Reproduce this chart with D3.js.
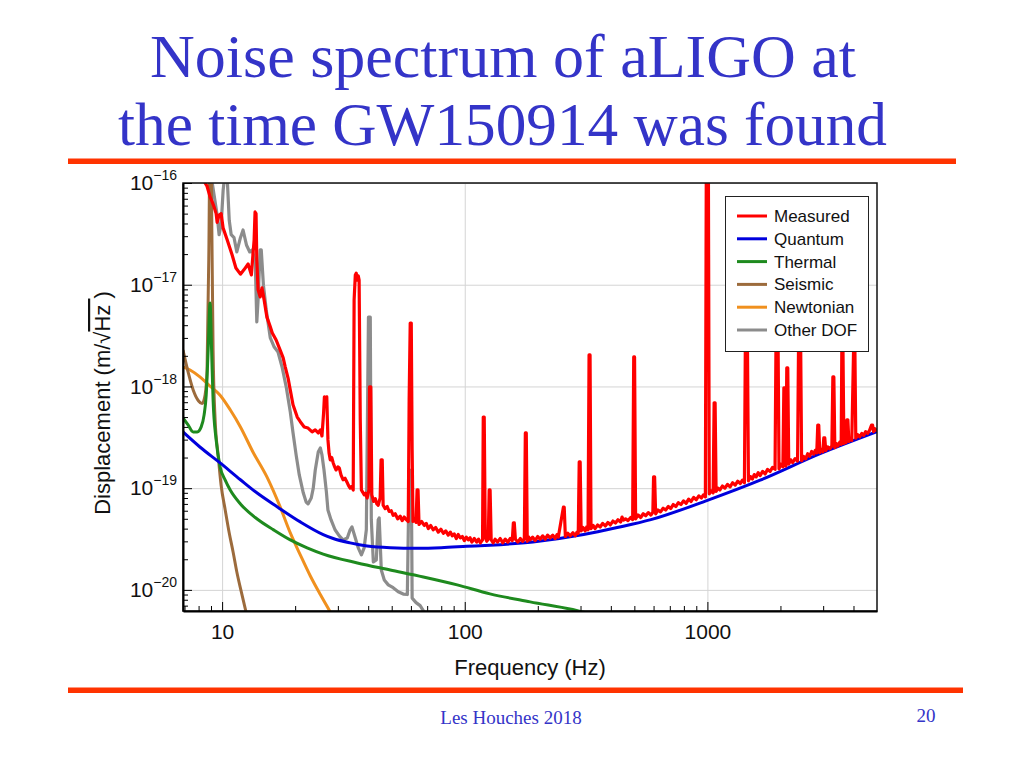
<!DOCTYPE html>
<html><head><meta charset="utf-8">
<script src="https://cdn.jsdelivr.net/npm/d3@7"></script>
<style>
body{margin:0;background:#fff;}
svg{display:block;}
</style></head><body>
<svg id="chart" width="1024" height="768"></svg>
<script>
// ---------------- data ----------------
const titleLines = ["Noise spectrum of aLIGO at", "the time GW150914 was found"];
const footerLeft = "Les Houches 2018";
const footerRight = "20";
const xLabel = "Frequency (Hz)";
const xMajorTicks = [10, 100, 1000];
const yMajorTicks = [1e-20, 1e-19, 1e-18, 1e-17, 1e-16];
const seriesNames = ["Measured", "Quantum", "Thermal", "Seismic", "Newtonian", "Other DOF"];

const measured = [
[8.3,1.3e-16],[8.51,1.0e-16],[8.67,9.3e-17],[8.92,7.3e-17],[9.09,6.6e-17],[9.27,5.8e-17],[9.45,5.0e-17],
[9.54,4.1e-17],[9.72,4.85e-17],[9.91,5.0e-17],[10.1,3.6e-17],[10.5,2.75e-17],[11.0,1.96e-17],[11.4,1.46e-17],
[11.9,1.27e-17],[12.3,1.40e-17],[12.8,1.60e-17],[13.2,1.25e-17],[13.55,2.75e-17],[13.67,5.19e-17],[13.8,5.0e-17],
[13.9,1.75e-17],[14.07,8.9e-18],[14.35,7.6e-18],[14.6,9.3e-18],[14.9,7.1e-18],[15.3,4.8e-18],[15.8,3.85e-18],
[16.1,3.36e-18],[16.7,2.86e-18],[17.35,2.28e-18],[17.85,1.91e-18],[18.2,1.56e-18],[18.7,1.21e-18],[19.1,9.2e-19],
[19.6,6.6e-19],[20.4,5.0e-19],[21.0,4.5e-19],[21.8,4.0e-19],[22.6,3.9e-19],[23.5,3.57e-19],[24.2,3.74e-19],
[24.9,3.49e-19],[25.4,3.74e-19],[25.8,3.26e-19],[26.2,5.5e-19],[26.4,7.9e-19],[26.7,7.4e-19],[27.0,7.9e-19],
[27.3,3.0e-19],[27.6,2.2e-19],[27.9,1.9e-19],[28.3,2.0e-19],[28.7,1.77e-19],[29.1,1.62e-19],[29.5,1.51e-19],
[30.0,1.62e-19],[30.4,1.58e-19],[30.9,1.35e-19],[31.5,1.21e-19],[32.1,1.25e-19],[32.8,1.13e-19],[33.2,1.06e-19],
[33.7,1.0e-19],[34.2,1.04e-19],[34.7,9.6e-20],[35.0,7.1e-18],[35.4,1.25e-17],[35.7,1.30e-17],[36.1,1.11e-17],
[36.4,1.22e-17],[36.7,1.11e-17],[37.1,4.7e-19],[37.5,9.6e-20],[38.0,9.1e-20],[38.5,8.6e-20],[39.0,8.9e-20],
[39.6,8.0e-20],[40.3,9.6e-20],[40.5,9.9e-19],[41.0,9.9e-19],[41.4,8.6e-20],[42.1,7.4e-20],[42.8,7.9e-20],
[43.4,7.0e-20],[44.0,6.8e-20],[44.8,8.0e-20],[45.2,1.9e-19],[45.7,1.9e-19],[46.1,6.8e-20],[47.0,6.3e-20],
[47.9,6.6e-20],[48.8,5.9e-20],[49.8,6.0e-20],[50.7,5.4e-20],[51.7,5.6e-20],[52.9,5.0e-20],[54.2,5.3e-20],
[55.2,4.8e-20],[56.3,5.2e-20],[57.4,4.9e-20],[58.5,4.7e-20],[59.0,7.4e-19],[59.6,4.2e-18],[60.2,4.2e-18],
[60.7,2.4e-19],[61.2,4.7e-20],[62.1,5.0e-20],[63.0,4.6e-20],[63.6,9.6e-20],[64.2,9.6e-20],[64.8,4.4e-20],
[66.4,4.7e-20],[68.1,4.3e-20],[69.4,4.5e-20],[70.8,4.0e-20],[72.4,4.3e-20],[74.1,3.9e-20],[75.9,4.1e-20],
[77.8,3.7e-20],[79.7,3.95e-20],[81.6,3.6e-20],[83.5,3.8e-20],[85.5,3.45e-20],[87.2,3.7e-20],[88.8,3.4e-20],
[90.5,3.55e-20],[92.3,3.2e-20],[94,3.5e-20],[95.9,3.25e-20],[97.7,3.35e-20],[99.6,3.05e-20],[101.5,3.3e-20],
[103.4,3.1e-20],[105.2,3.25e-20],[107,2.95e-20],[109.5,3.2e-20],[112,2.95e-20],[114,3.15e-20],[116,2.9e-20],
[118.4,3.1e-20],[119.2,5.0e-19],[120.3,5.0e-19],[121.5,3.3e-20],[123.2,3.0e-20],[125,3.15e-20],[126.1,9.6e-20],
[127.2,9.6e-20],[128.5,3.1e-20],[131,2.9e-20],[133.4,3.15e-20],[136.5,2.95e-20],[140,3.2e-20],[143.5,2.9e-20],
[146.8,3.15e-20],[150.5,2.95e-20],[154,3.2e-20],[157,3.05e-20],[158.6,4.56e-20],[160,4.56e-20],[161.7,3.15e-20],
[165.5,2.95e-20],[169.5,3.2e-20],[173,3.0e-20],[176,3.15e-20],[177.7,3.49e-19],[179.3,3.49e-19],[181,3.0e-20],
[183.5,3.3e-20],[186,3.1e-20],[190.5,3.3e-20],[195,3.05e-20],[200,3.35e-20],[204.5,3.15e-20],[209.5,3.4e-20],
[214.5,3.15e-20],[219.5,3.45e-20],[225,3.25e-20],[230.5,3.45e-20],[236,3.2e-20],[240,3.5e-20],[243,3.3e-20],
[255,6.5e-20],[257,6.5e-20],[259.8,3.35e-20],[266,3.6e-20],[272,3.4e-20],[279,3.65e-20],[285.5,3.4e-20],
[290,3.7e-20],[293.6,3.6e-20],[296.3,1.81e-19],[299,1.81e-19],[301.8,3.8e-20],[307.5,4.1e-20],[313.4,3.8e-20],
[318,4.15e-20],[322.2,3.9e-20],[325.3,2.04e-18],[328.4,2.04e-18],[331.4,4.0e-20],[338,4.3e-20],[344.4,4.0e-20],
[353,4.35e-20],[361.5,4.15e-20],[370,4.5e-20],[379.5,4.25e-20],[389,4.6e-20],[398,4.35e-20],[408,4.75e-20],
[418,4.55e-20],[428,4.9e-20],[439,4.65e-20],[445,5.2e-20],[451,4.85e-20],[460,5.0e-20],[471,4.8e-20],
[483,5.15e-20],[492,4.9e-20],[497,1.95e-18],[501,1.95e-18],[506,5.0e-20],[518,5.45e-20],[531,5.15e-20],
[544,5.6e-20],[557,5.35e-20],[571,5.75e-20],[585,5.45e-20],[596,5.8e-20],[600,1.29e-19],[606,1.29e-19],
[612,5.6e-20],[626,6.1e-20],[641,5.85e-20],[657,6.35e-20],[673,6.1e-20],[690,6.6e-20],[706,6.3e-20],[723,6.9e-20],
[741,6.6e-20],[759,7.2e-20],[778,6.9e-20],[797,7.5e-20],[817,7.1e-20],[837,7.8e-20],[857,7.4e-20],[878,8.1e-20],
[900,7.7e-20],[922,8.4e-20],[945,8.0e-20],[963,8.6e-20],[981,8.2e-20],[990,2e-16],[1009,2e-16],[1018,8.8e-20],
[1037,9.4e-20],[1056,9.0e-20],[1066,6.9e-19],[1076,6.9e-19],[1086,9.3e-20],[1106,1.0e-19],[1126,9.6e-20],
[1153,1.05e-19],[1181,1.0e-19],[1210,1.09e-19],[1240,1.03e-19],[1270,1.13e-19],[1302,1.07e-19],[1334,1.17e-19],
[1367,1.11e-19],[1394,1.2e-19],[1421,1.13e-19],[1434,3.0e-18],[1462,3.0e-18],[1476,1.18e-19],[1504,1.3e-19],
[1532,1.23e-19],[1560,1.36e-19],[1589,1.29e-19],[1619,1.42e-19],[1649,1.33e-19],[1689,1.46e-19],[1729,1.38e-19],
[1770,1.53e-19],[1813,1.46e-19],[1856,1.6e-19],[1900,1.53e-19],[1918,3.0e-18],[1955,3.0e-18],[1973,1.55e-19],
[2010,1.72e-19],[2047,1.62e-19],[2066,9.7e-19],[2085,9.7e-19],[2105,1.65e-19],[2124,1.52e-18],[2144,1.52e-18],
[2164,1.72e-19],[2204,1.9e-19],[2244,1.78e-19],[2298,1.95e-19],[2353,1.85e-19],[2376,3.0e-18],[2422,3.0e-18],
[2445,1.86e-19],[2493,2.05e-19],[2541,1.94e-19],[2590,2.18e-19],[2640,2.06e-19],[2690,2.3e-19],[2742,2.16e-19],
[2783,2.35e-19],[2823,2.22e-19],[2850,4.18e-19],[2877,4.18e-19],[2904,2.24e-19],[2947,2.42e-19],[2990,2.28e-19],
[3018,3.12e-19],[3046,3.12e-19],[3075,2.34e-19],[3135,2.55e-19],[3196,2.44e-19],[3258,2.6e-19],[3289,1.24e-18],
[3320,1.24e-18],[3351,2.5e-19],[3400,2.75e-19],[3449,2.6e-19],[3516,2.85e-19],[3560,2.7e-19],[3583,3.0e-18],
[3617,3.0e-18],[3651,2.75e-19],[3690,2.95e-19],[3722,2.8e-19],[3757,4.69e-19],[3792,4.69e-19],[3828,2.88e-19],
[3880,3.1e-19],[3937,2.95e-19],[4012,3.0e-18],[4050,3.0e-18],[4088,3.1e-19],[4165,3.35e-19],[4244,3.2e-19],
[4325,3.45e-19],[4406,3.3e-19],[4490,3.6e-19],[4574,3.45e-19],[4660,3.7e-19],[4748,4.18e-19],[4793,4.18e-19],
[4838,3.6e-19],[4900,3.85e-19],[4960,3.7e-19],[5000,3.8e-19]
];

const quantum = [
[6.9,3.57e-19],[8.1,2.54e-19],[9.81,1.77e-19],[11.9,1.21e-19],[13.9,9.0e-20],[16.9,6.54e-20],[21.0,4.66e-20],
[26.1,3.5e-20],[28.7,3.2e-20],[33.7,2.9e-20],[39.6,2.7e-20],[49.3,2.6e-20],[63.6,2.57e-20],[80,2.6e-20],
[102,2.68e-20],[127,2.75e-20],[191,2.96e-20],[309,3.5e-20],[425,4.1e-20],[585,4.9e-20],[1000,7.6e-20],
[1650,1.2e-19],[2930,2.2e-19],[5000,3.6e-19]
];

const thermal = [
[6.9,4.9e-19],[7.24,4.18e-19],[7.6,3.57e-19],[7.9,3.57e-19],[8.2,4.0e-19],[8.43,5.25e-19],[8.6,8.25e-19],
[8.76,2.28e-18],[8.92,6.62e-18],[9.05,2.28e-18],[9.18,7.36e-19],[9.45,2.98e-19],[9.81,1.62e-19],[10.3,1.2e-19],
[10.8,9.6e-20],[11.9,7.0e-20],[13.9,5.0e-20],[16.3,3.89e-20],[19.1,3.10e-20],[22.4,2.59e-20],[26.1,2.25e-20],
[36.1,1.84e-20],[49.3,1.57e-20],[67.5,1.34e-20],[93.1,1.12e-20],[127,9.14e-21],[186,7.62e-21],[294,6.22e-21],
[330,5.8e-21]
];

const seismic = [
[6.9,2.28e-18],[7.24,1.39e-18],[7.6,9.24e-19],[8.0,7.2e-19],[8.27,6.78e-19],[8.51,8.25e-19],[8.67,1.45e-18],
[8.82,2.2e-17],[8.9,1.7e-16],[9.0,1.7e-16],[9.09,2.2e-17],[9.18,2.28e-18],[9.36,4.69e-19],[9.63,2.12e-19],
[9.9,1.08e-19],[10.3,6.11e-20],[10.7,3.63e-20],[11.1,2.36e-20],[11.5,1.50e-20],[12.0,9.56e-21],[12.6,5.81e-21]
];

const newtonian = [
[6.9,1.56e-18],[7.38,1.45e-18],[8.1,1.24e-18],[8.9,1.01e-18],[9.81,8.2e-19],[10.8,5.9e-19],[11.9,4.0e-19],
[13.4,2.27e-19],[15.3,1.29e-19],[17.35,6.54e-20],[19.1,3.63e-20],[21.0,2.21e-20],[23.1,1.37e-20],[25.4,9.0e-21],
[27.9,6.08e-21]
];

const otherDOF = [
[8.55,2e-16],[9.0,1.2e-16],[9.27,7.6e-17],[9.54,4.85e-17],[9.72,3.1e-17],[9.91,3.9e-17],[10.1,8.5e-17],
[10.3,1.3e-16],[10.5,1.1e-16],[10.7,4.3e-17],[10.9,3.1e-17],[11.2,2.9e-17],[11.5,2.1e-17],[11.9,2.9e-17],
[12.2,3.45e-17],[12.6,2.46e-17],[13.0,2.1e-17],[13.3,2.2e-17],[13.7,1.67e-17],[13.9,4.3e-18],[14.07,7.1e-18],
[14.35,2.2e-17],[14.5,2.2e-17],[14.8,9.9e-18],[15.2,5.65e-18],[15.8,3.0e-18],[16.4,2.44e-18],[17.0,2.18e-18],
[17.7,1.52e-18],[18.4,9.7e-19],[19.1,5.6e-19],[19.6,3.5e-19],[20.2,2.1e-19],[20.8,1.35e-19],[21.6,9.0e-20],
[22.2,7.3e-20],[22.6,7.0e-20],[23.3,8.0e-20],[23.75,1.0e-19],[24.2,1.5e-19],[24.9,2.27e-19],[25.4,2.49e-19],
[25.8,2.12e-19],[26.3,1.51e-19],[26.9,9.2e-20],[27.3,6.1e-20],[28.1,4.9e-20],[29.2,3.9e-20],[30.4,3.4e-20],
[31.5,3.1e-20],[32.8,3.24e-20],[33.7,3.9e-20],[34.3,4.16e-20],[35.4,3.24e-20],[36.4,2.59e-20],[37.5,2.21e-20],
[38.5,2.59e-20],[39.3,3.9e-20],[40.1,4.8e-18],[40.8,4.8e-18],[41.2,4.9e-20],[42.0,1.88e-20],[43.2,1.97e-20],
[44.0,4.9e-20],[44.4,5.1e-20],[45.3,1.57e-20],[46.6,1.25e-20],[48.4,1.12e-20],[50.7,1.05e-20],[53.2,9.6e-21],
[55.8,9.1e-21],[58.0,9.0e-21],[59.0,1.5e-19],[60.2,1.5e-19],[60.7,8.3e-21],[63.0,7.5e-21],[65.5,7.0e-21],
[68.8,5.8e-21]
];

const seriesColors = ["#ff0000", "#0000dd", "#1e8a1e", "#9c6b3c", "#f0901e", "#8c8c8c"];

// ---------------- layout ----------------
const svg = d3.select("#chart");
const M = {left:183, right:877, top:183, bottom:611};
const x = d3.scaleLog().domain([6.9, 5000]).range([M.left, M.right]);
const y = d3.scaleLog().domain([6.2e-21, 1e-16]).range([M.bottom, M.top]);
const sans = "'Liberation Sans', Arial, sans-serif";
const serif = "'Liberation Serif', 'Times New Roman', serif";
const slideBlue = "#3434c8";
const ruleColor = "#ff3300";

svg.append("rect").attr("width",1024).attr("height",768).attr("fill","#fff");

// title
const titleSpec = [{y:77, len:706, cx:503}, {y:145, len:769, cx:502.5}];
titleLines.forEach((t,i)=>{
  svg.append("text").attr("x",titleSpec[i].cx).attr("y",titleSpec[i].y)
    .attr("text-anchor","middle").attr("font-family",serif).attr("font-size",62)
    .attr("fill",slideBlue).attr("textLength",titleSpec[i].len).attr("lengthAdjust","spacingAndGlyphs")
    .text(t);
});
// rules
svg.append("rect").attr("x",68).attr("y",158.5).attr("width",888).attr("height",5.5).attr("fill",ruleColor);
svg.append("rect").attr("x",68).attr("y",687.5).attr("width",895).attr("height",5.5).attr("fill",ruleColor);
// footer
svg.append("text").attr("x",511).attr("y",724).attr("text-anchor","middle").attr("font-family",serif)
  .attr("font-size",19).attr("fill",slideBlue).text(footerLeft);
svg.append("text").attr("x",926).attr("y",722).attr("text-anchor","middle").attr("font-family",serif)
  .attr("font-size",19).attr("fill",slideBlue).text(footerRight);

// minor tick values
const xMinor = [];
[1,10,100,1000].forEach(d=>{ for(let k=2;k<=9;k++){ const v=k*d; if(v>x.domain()[0] && v<x.domain()[1]) xMinor.push(v);} });
const yMinor = [];
[1e-21,1e-20,1e-19,1e-18,1e-17].forEach(d=>{ for(let k=2;k<=9;k++){ const v=k*d; if(v>y.domain()[0] && v<y.domain()[1]) yMinor.push(v);} });

// grid
const grid = svg.append("g");
grid.append("g").attr("transform",`translate(0,${M.bottom})`)
  .call(d3.axisBottom(x).tickValues(xMajorTicks).tickSize(-(M.bottom-M.top)).tickFormat(""))
  .call(g=>g.select(".domain").remove())
  .call(g=>g.selectAll("line").attr("stroke","#d4d4d4").attr("stroke-width",1));
grid.append("g").attr("transform",`translate(${M.left},0)`)
  .call(d3.axisLeft(y).tickValues(yMajorTicks).tickSize(-(M.right-M.left)).tickFormat(""))
  .call(g=>g.select(".domain").remove())
  .call(g=>g.selectAll("line").attr("stroke","#d4d4d4").attr("stroke-width",1));

// data lines
svg.append("defs").append("clipPath").attr("id","plotclip").append("rect")
  .attr("x",M.left).attr("y",M.top).attr("width",M.right-M.left).attr("height",M.bottom-M.top);
const lineRaw = d3.line().x(d=>x(d[0])).y(d=>y(d[1]));
const lineSmooth = d3.line().x(d=>x(d[0])).y(d=>y(d[1])).curve(d3.curveMonotoneX);
const plot = svg.append("g").attr("clip-path","url(#plotclip)");
const drawOrder = [[otherDOF,5,lineRaw,3.2],[newtonian,4,lineSmooth,3],[seismic,3,lineSmooth,3],
                   [thermal,2,lineSmooth,3],[quantum,1,lineSmooth,3],[measured,0,lineRaw,3.2]];
drawOrder.forEach(([data,ci,gen,w])=>{
  plot.append("path").datum(data).attr("d",gen).attr("fill","none")
    .attr("stroke",seriesColors[ci]).attr("stroke-width",w).attr("stroke-linejoin","round");
});

// frame
svg.append("rect").attr("x",M.left).attr("y",M.top).attr("width",M.right-M.left).attr("height",M.bottom-M.top)
  .attr("fill","none").attr("stroke","#111").attr("stroke-width",1.5);

// axes
const styleAxis = g=>{ g.selectAll("line").attr("stroke","#000"); g.select(".domain").attr("stroke","#000").attr("stroke-width",2); };
svg.append("g").attr("transform",`translate(0,${M.bottom})`)
  .call(d3.axisBottom(x).tickValues(xMinor).tickSizeInner(-5).tickSizeOuter(0).tickFormat(""))
  .call(g=>g.select(".domain").remove()).call(styleAxis);
const xa = svg.append("g").attr("transform",`translate(0,${M.bottom})`)
  .call(d3.axisBottom(x).tickValues(xMajorTicks).tickSizeInner(-9).tickSizeOuter(0).tickPadding(13).tickFormat(d3.format("d")))
  .call(styleAxis);
xa.selectAll("text").attr("font-family",sans).attr("font-size",21).attr("fill","#111");

svg.append("g").attr("transform",`translate(${M.left},0)`)
  .call(d3.axisLeft(y).tickValues(yMinor).tickSizeInner(-5).tickSizeOuter(0).tickFormat(""))
  .call(g=>g.select(".domain").remove()).call(styleAxis);
const ya = svg.append("g").attr("transform",`translate(${M.left},0)`)
  .call(d3.axisLeft(y).tickValues(yMajorTicks).tickSizeInner(-9).tickSizeOuter(0).tickPadding(6).tickFormat(()=>""))
  .call(styleAxis);
ya.selectAll(".tick text").attr("font-family",sans).attr("font-size",21).attr("fill","#111")
  .each(function(d){
    const t = d3.select(this);
    t.append("tspan").text("10");
    t.append("tspan").attr("dy",-10).attr("font-size",14).text("\u2212" + Math.round(-Math.log10(d)));
  });

// axis titles
svg.append("text").attr("x",530).attr("y",675).attr("text-anchor","middle")
  .attr("font-family",sans).attr("font-size",22).attr("fill","#111").text(xLabel);
const yl = svg.append("text").attr("transform","translate(110,403) rotate(-90)").attr("text-anchor","middle")
  .attr("font-family",sans).attr("font-size",22).attr("fill","#111");
yl.append("tspan").text("Displacement (m/\u221A");
yl.append("tspan").style("text-decoration","overline").text("Hz ");
yl.append("tspan").text(")");

// legend
const lg = svg.append("g");
lg.append("rect").attr("x",725.5).attr("y",196.5).attr("width",143).attr("height",155)
  .attr("fill","#fff").attr("stroke","#222").attr("stroke-width",1);
seriesNames.forEach((n,i)=>{
  const yy = 216 + i*22.8;
  lg.append("line").attr("x1",737).attr("x2",767).attr("y1",yy).attr("y2",yy)
    .attr("stroke",seriesColors[i]).attr("stroke-width",3);
  lg.append("text").attr("x",774).attr("y",yy+6).attr("font-family",sans).attr("font-size",17)
    .attr("fill","#111").text(n);
});
</script>
</body></html>
